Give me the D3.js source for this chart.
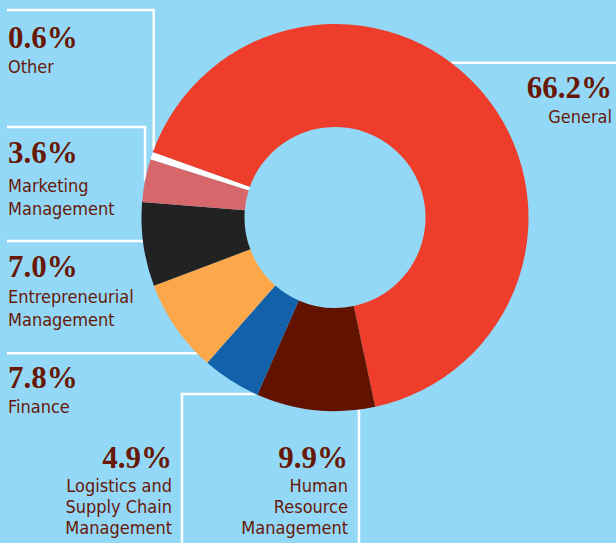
<!DOCTYPE html>
<html>
<head>
<meta charset="utf-8">
<script src="https://cdn.jsdelivr.net/npm/d3@7"></script>
<style>
  html, body { margin: 0; padding: 0; background: #93d9f7; }
  svg { display: block; }
</style>
</head>
<body>
<script>
// chart data
var categories = ['General', 'Human Resource Management', 'Logistics and Supply Chain Management',
  'Finance', 'Entrepreneurial Management', 'Marketing Management', 'Other'];
var shares = [66.2, 9.9, 4.9, 7.8, 7.0, 3.6, 0.6];
var sliceColors = ['#ee3d2a', '#611300', '#1461ab', '#fca74a', '#222222', '#d6676b', '#ffffff'];
var nameLines = [['General'], ['Human', 'Resource', 'Management'], ['Logistics and', 'Supply Chain', 'Management'],
  ['Finance'], ['Entrepreneurial', 'Management'], ['Marketing', 'Management'], ['Other']];

var width = 616, height = 543;
var cx = 335, cy = 217.5, outerR = 193.5, innerR = 90.5;
var textColor = '#671807';

var svg = d3.select('body').append('svg').attr('width', width).attr('height', height);
svg.append('rect').attr('width', width).attr('height', height).attr('fill', '#93d9f7');

// where a horizontal / vertical leader meets the outer ring
function ringX(y, side) { return cx + side * Math.sqrt(outerR * outerR - (y - cy) * (y - cy)); }
function ringY(x, side) { return cy + side * Math.sqrt(outerR * outerR - (x - cx) * (x - cx)); }

// label placement: x, baseline of the percentage, anchor, leader points
var labelLayout = [
  { x: 612, y: 98, anchor: 'end', leader: [[616, 62.7], [ringX(62.7, 1), 62.7]] },
  { x: 348, y: 468, anchor: 'end', leader: [[359, 543], [359, ringY(359, 1)]] },
  { x: 172, y: 468, anchor: 'end', leader: [[182, 543], [182, 394], [ringX(394, -1), 394]] },
  { x: 8, y: 388, anchor: 'start', leader: [[7, 353.3], [ringX(353.3, -1), 353.3]] },
  { x: 8, y: 277, anchor: 'start', leader: [[7, 241], [ringX(241, -1), 241]] },
  { x: 8, y: 163, anchor: 'start', leader: [[7, 127], [145, 127], [145, ringY(145, -1)]] },
  { x: 8, y: 48, anchor: 'start', leader: [[7, 10], [153.7, 10], [153.7, ringY(153.7, -1)]] }
];
var lineGap = [25, 24, 24, 25, 26, 29, 25];

var line = d3.line();
svg.append('g').selectAll('path')
  .data(labelLayout)
  .enter()
  .append('path')
  .attr('d', function (d) { return line(d.leader); })
  .attr('fill', 'none')
  .attr('stroke', '#ffffff')
  .attr('stroke-width', 2.5);

var start = -70.3 * Math.PI / 180;
var pie = d3.pie().sort(null).value(function (d) { return d; })
  .startAngle(start).endAngle(start + 2 * Math.PI);
var arc = d3.arc().innerRadius(innerR).outerRadius(outerR);

svg.append('g')
  .attr('transform', 'translate(' + cx + ',' + cy + ')')
  .selectAll('path')
  .data(pie(shares))
  .enter()
  .append('path')
  .attr('d', arc)
  .attr('fill', function (d, i) { return sliceColors[i]; });

var labels = svg.append('g').selectAll('g')
  .data(shares)
  .enter()
  .append('g')
  .attr('transform', function (d, i) { return 'translate(' + labelLayout[i].x + ',' + labelLayout[i].y + ')'; })
  .attr('text-anchor', function (d, i) { return labelLayout[i].anchor; })
  .attr('fill', textColor);

labels.append('text')
  .attr('font-family', '"Liberation Serif", serif')
  .attr('font-weight', 'bold')
  .attr('font-size', 31)
  .text(function (d) { return d.toFixed(1) + '%'; });

labels.each(function (d, i) {
  var t = d3.select(this).append('text')
    .attr('font-family', '"DejaVu Sans Condensed", "DejaVu Sans", sans-serif')
    .attr('font-stretch', 'condensed')
    .attr('font-size', 18);
  nameLines[i].forEach(function (s, k) {
    t.append('tspan')
      .attr('x', 0)
      .attr('y', lineGap[i] + k * (nameLines[i].length === 3 ? 21.2 : 23))
      .text(s);
  });
});
</script>
</body>
</html>
